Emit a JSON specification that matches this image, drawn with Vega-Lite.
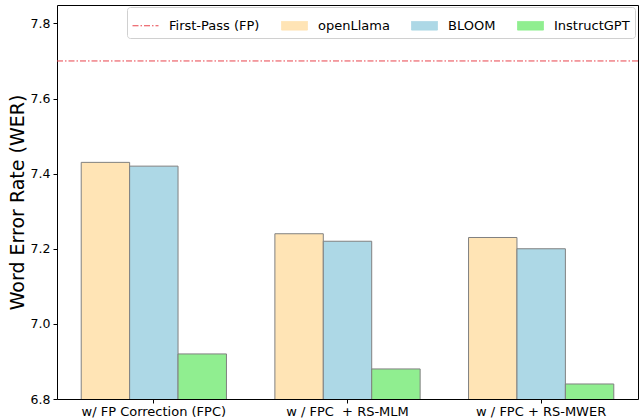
{
  "$schema": "https://vega.github.io/schema/vega-lite/v6.json",
  "width": 581,
  "height": 394,
  "autosize": {"type": "none"},
  "padding": {"left": 57, "top": 5, "right": 1, "bottom": 20},
  "config": {
    "font": "DejaVu Sans",
    "view": {"stroke": "black", "strokeWidth": 1},
    "axis": {"domain": false, "grid": false, "tickColor": "black", "tickSize": 4, "labelColor": "black", "labelFontSize": 12.5, "titleColor": "black"}
  },
  "datasets": {
    "bars": [
      {"method": "w/ FP Correction (FPC)", "model": "openLlama", "wer": 7.43},
      {"method": "w/ FP Correction (FPC)", "model": "BLOOM", "wer": 7.42},
      {"method": "w/ FP Correction (FPC)", "model": "InstructGPT", "wer": 6.92},
      {"method": "w / FPC\u00a0 + RS-MLM", "model": "openLlama", "wer": 7.24},
      {"method": "w / FPC\u00a0 + RS-MLM", "model": "BLOOM", "wer": 7.22},
      {"method": "w / FPC\u00a0 + RS-MLM", "model": "InstructGPT", "wer": 6.88},
      {"method": "w / FPC + RS-MWER", "model": "openLlama", "wer": 7.23},
      {"method": "w / FPC + RS-MWER", "model": "BLOOM", "wer": 7.20},
      {"method": "w / FPC + RS-MWER", "model": "InstructGPT", "wer": 6.84}
    ],
    "fp": [{"model": "First-Pass (FP)", "wer": 7.7}]
  },
  "layer": [
    {
      "data": {"name": "bars"},
      "mark": {"type": "bar", "stroke": "#808080", "strokeWidth": 1, "clip": true},
      "encoding": {
        "x": {"field": "method", "type": "nominal", "sort": null,
              "scale": {"paddingInner": 0.25, "paddingOuter": 0.125},
              "axis": {"title": null, "labelAngle": 0, "labelPadding": 2, "labelFontSize": 13}},
        "xOffset": {"field": "model", "type": "nominal", "sort": ["openLlama", "BLOOM", "InstructGPT"], "scale": {"paddingInner": 0, "paddingOuter": 0}},
        "y": {"field": "wer", "type": "quantitative",
              "scale": {"domain": [6.8, 7.849], "nice": false, "zero": false},
              "axis": {"title": "Word Error Rate (WER)", "titleFontSize": 19, "titleFontWeight": "normal", "titlePadding": 3, "values": [6.8, 7.0, 7.2, 7.4, 7.6, 7.8], "format": ".1f", "labelPadding": 3}},
        "color": {"field": "model", "type": "nominal",
                  "scale": {"domain": ["First-Pass (FP)", "openLlama", "BLOOM", "InstructGPT"], "range": ["#e8434b", "#FFE4B5", "#ADD8E6", "#90EE90"]},
                  "legend": {
                    "title": null, "orient": "none", "legendX": 70, "legendY": 2, "direction": "horizontal", "columns": 4,
                    "padding": 5,
                    "fillColor": "white", "strokeColor": "#d0d0d0", "cornerRadius": 3,
                    "labelFontSize": 13, "labelColor": "black", "labelOffset": 10,
                    "columnPadding": 19,
                    "symbolSize": 676, "symbolType": "M-1,-0.33H1V0.33H-1Z", "symbolStrokeWidth": 1, "symbolStrokeColor": "#808080",
                    "encode": {
                      "symbols": {
                        "enter": {
                          "shape": {"signal": "datum.value === 'First-Pass (FP)' ? 'M-1,0H1' : 'M-1,-0.33H1V0.33H-1Z'"},
                          "stroke": {"signal": "datum.value === 'First-Pass (FP)' ? '#e8434b' : '#808080'"},
                          "strokeDash": {"signal": "datum.value === 'First-Pass (FP)' ? [6,2,1.5,2] : [1,0]"},
                          "fill": {"signal": "datum.value === 'First-Pass (FP)' ? 'transparent' : scale('color', datum.value)"}
                        },
                        "update": {
                          "shape": {"signal": "datum.value === 'First-Pass (FP)' ? 'M-1,0H1' : 'M-1,-0.33H1V0.33H-1Z'"},
                          "stroke": {"signal": "datum.value === 'First-Pass (FP)' ? '#e8434b' : '#808080'"},
                          "strokeDash": {"signal": "datum.value === 'First-Pass (FP)' ? [6,2,1.5,2] : [1,0]"},
                          "fill": {"signal": "datum.value === 'First-Pass (FP)' ? 'transparent' : scale('color', datum.value)"},
                          "opacity": {"value": 1},
                          "fillOpacity": {"value": 1}
                        }
                      }
                    }
                  }}
      }
    },
    {
      "data": {"name": "fp"},
      "mark": {"type": "rule", "strokeDash": [6, 2, 1.5, 2], "strokeWidth": 1},
      "encoding": {
        "y": {"field": "wer", "type": "quantitative"},
        "color": {"field": "model", "type": "nominal"}
      }
    }
  ]
}
